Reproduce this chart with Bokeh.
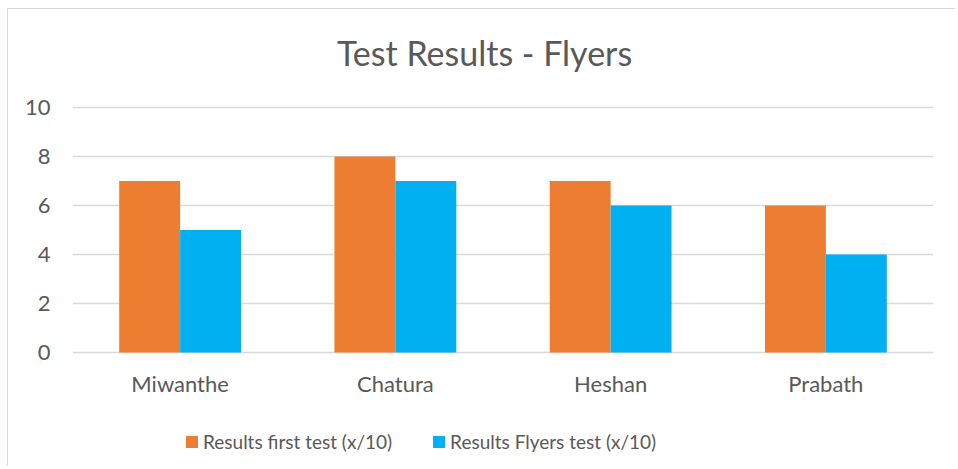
from bokeh.plotting import figure
from bokeh.core.properties import value
from bokeh.models import (ColumnDataSource, FactorRange, Range1d, FixedTicker,
                          Legend, LegendItem, Label, LabelSet)
from bokeh.transform import dodge
from bokeh.embed import file_html
from bokeh.resources import INLINE

names = ["Miwanthe", "Chatura", "Heshan", "Prabath"]
first_test = [7, 8, 7, 6]
flyers_test = [5, 7, 6, 4]
y_ticks = [0, 2, 4, 6, 8, 10]
title_text = "Test Results - Flyers"
series_labels = ["Results first test (x/10)", "Results Flyers test (x/10)"]

ORANGE = "#ED7D31"
BLUE = "#00B0F0"
GRID = "#D9D9D9"
TEXT = "#595959"
FONT = "Lato"

src = ColumnDataSource(dict(names=names, first=first_test, flyers=flyers_test))

# the frame spans the whole height; the value axis occupies 0..10 inside it
p = figure(width=948, height=458, output_backend="svg", toolbar_location=None,
           x_range=FactorRange(factors=names, range_padding=0),
           y_range=Range1d(-4.694, 14.0),
           min_border_left=64, min_border_right=23,
           min_border_top=0, min_border_bottom=0)
p.styles = {"margin-left": "7px", "margin-top": "8px",
            "border-left": "1px solid #D9D9D9", "border-top": "1px solid #D9D9D9"}
p.outline_line_color = None
p.background_fill_color = "white"
p.border_fill_color = "white"

bw = 0.283
r1 = p.vbar(x=dodge("names", -bw / 2, range=p.x_range), top="first", width=bw,
            source=src, fill_color=ORANGE, line_color=None)
r2 = p.vbar(x=dodge("names", bw / 2, range=p.x_range), top="flyers", width=bw,
            source=src, fill_color=BLUE, line_color=None)

p.xgrid.grid_line_color = None
p.ygrid.grid_line_color = GRID
p.ygrid.grid_line_width = 1.3
p.yaxis.ticker = FixedTicker(ticks=y_ticks)
p.xaxis.visible = False

ax = p.yaxis[0]
ax.axis_line_color = None
ax.major_tick_line_color = None
ax.minor_tick_line_color = None
ax.major_tick_out = 0
ax.major_tick_in = 0
ax.major_label_text_color = TEXT
ax.major_label_text_font = FONT
ax.major_label_text_font_size = "22px"
ax.major_label_standoff = 22

# category labels under the bars
cat_labels = LabelSet(x="names", y=84, y_units="screen", text="names", source=src,
                      text_align="center", text_baseline="middle",
                      text_font=value(FONT), text_font_size=value("22px"),
                      text_color=value(TEXT))
p.add_layout(cat_labels)

title = Label(x=412, y=415, x_units="screen", y_units="screen", text=title_text,
              text_align="center", text_baseline="middle", text_color=TEXT,
              text_font=FONT, text_font_size="34px")
p.add_layout(title)

legend = Legend(items=[LegendItem(label=series_labels[0], renderers=[r1]),
                       LegendItem(label=series_labels[1], renderers=[r2])],
                orientation="horizontal", location=(112, 14),
                glyph_width=15, glyph_height=15, label_standoff=4, spacing=39,
                padding=0, margin=0, border_line_color=None,
                background_fill_alpha=0,
                label_text_font=FONT, label_text_font_size="19px",
                label_text_color=TEXT, label_height=22)
p.add_layout(legend, "center")

open("out.html", "w").write(file_html(p, INLINE))
